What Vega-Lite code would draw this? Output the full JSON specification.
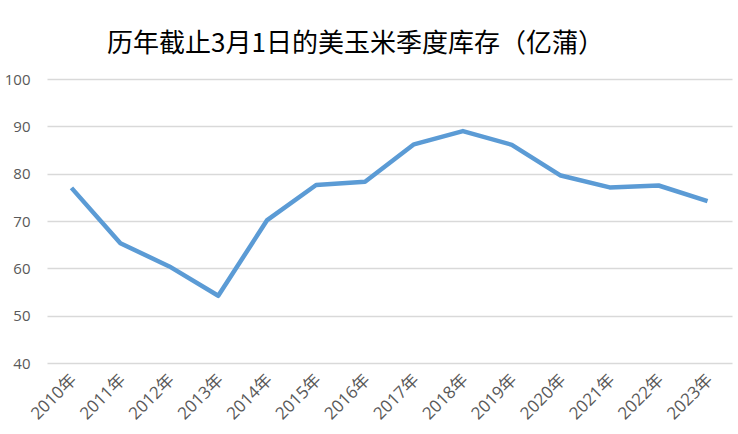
{
  "$schema": "https://vega.github.io/schema/vega-lite/v6.json",
  "background": "white",
  "autosize": "none",
  "width": 685,
  "height": 284,
  "padding": {"left": 47, "top": 79, "right": 6, "bottom": 71},
  "title": {
    "text": "历年截止3月1日的美玉米季度库存（亿蒲）",
    "font": "Noto Sans CJK SC",
    "fontSize": 26,
    "fontWeight": "normal",
    "color": "#000000",
    "anchor": "middle",
    "dx": -34,
    "offset": 15
  },
  "data": {
    "values": [
      {"year": "2010年", "stocks": 77.0},
      {"year": "2011年", "stocks": 65.3},
      {"year": "2012年", "stocks": 60.4},
      {"year": "2013年", "stocks": 54.2},
      {"year": "2014年", "stocks": 70.2},
      {"year": "2015年", "stocks": 77.6},
      {"year": "2016年", "stocks": 78.3},
      {"year": "2017年", "stocks": 86.2},
      {"year": "2018年", "stocks": 89.0},
      {"year": "2019年", "stocks": 86.1},
      {"year": "2020年", "stocks": 79.6},
      {"year": "2021年", "stocks": 77.1},
      {"year": "2022年", "stocks": 77.5},
      {"year": "2023年", "stocks": 74.2}
    ]
  },
  "mark": {"type": "line", "color": "#5b9bd5", "strokeWidth": 4.5, "strokeJoin": "round"},
  "encoding": {
    "x": {
      "field": "year",
      "type": "ordinal",
      "sort": null,
      "title": null,
      "axis": {
        "domain": false,
        "ticks": false,
        "grid": false,
        "labelAngle": -45,
        "labelAlign": "right",
        "labelBaseline": "middle",
        "labelPadding": 14,
        "labelOffset": 2,
        "labelFont": "Open Sans, Noto Sans CJK SC",
        "labelFontSize": 17,
        "labelColor": "#595959"
      }
    },
    "y": {
      "field": "stocks",
      "type": "quantitative",
      "title": null,
      "scale": {"domain": [40, 100], "nice": false, "zero": false},
      "axis": {
        "values": [40, 50, 60, 70, 80, 90, 100],
        "domain": false,
        "ticks": false,
        "labelPadding": 17,
        "labelFont": "Open Sans",
        "labelFontSize": 15,
        "labelColor": "#595959",
        "gridColor": "#d9d9d9",
        "gridWidth": 1.5
      }
    }
  },
  "config": {"view": {"stroke": null}}
}
